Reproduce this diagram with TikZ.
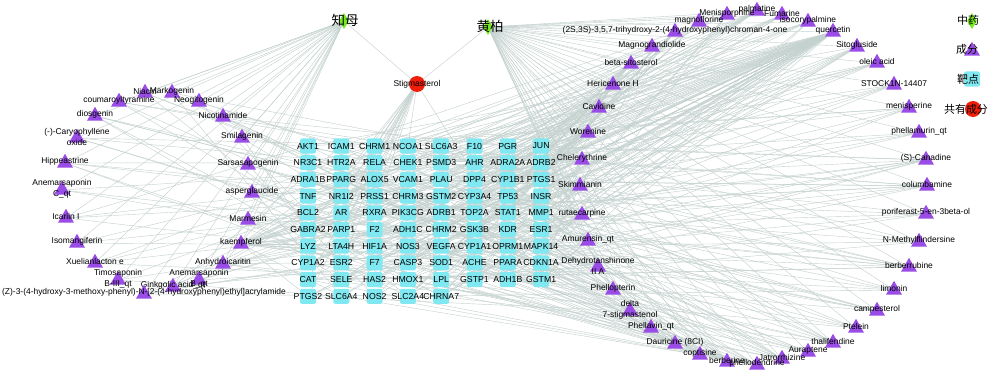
\documentclass[tikz,border=0pt]{standalone}
\usepackage{fontspec}
\setmainfont{Liberation Sans}
\newfontfamily\cjk{Noto Sans CJK SC}
\usetikzlibrary{shapes.geometric,backgrounds}

\definecolor{herbgreen}{RGB}{118,232,30}
\definecolor{ingpurple}{RGB}{153,76,230}
\definecolor{tcyan}{RGB}{128,232,240}
\definecolor{cred}{RGB}{240,30,10}
\definecolor{linkgray}{RGB}{196,210,207}

\tikzset{
    link/.style={draw=linkgray, line width=0.3pt},
    herb/.style={diamond, fill=herbgreen, minimum width=0.25cm, minimum height=0.4cm, inner sep=0pt},
    ingr/.style={regular polygon, regular polygon sides=3, fill=ingpurple, minimum size=0.46cm, inner sep=0pt},
    target/.style={rectangle, rounded corners=1.5pt, fill=tcyan, minimum width=0.4cm, minimum height=0.375cm, inner sep=0pt, font=\fontsize{6.2}{7}\selectfont},
    common/.style={circle, fill=cred, minimum size=0.4cm, inner sep=0pt},
    lbl/.style={font=\fontsize{6}{7.8}\selectfont, align=center, inner sep=0pt},
    herblbl/.style={font=\cjk\fontsize{9.6}{10}\selectfont, inner sep=0pt},
    legendlbl/.style={font=\cjk\fontsize{7.8}{8}\selectfont, inner sep=0pt}
}

% name/x/y/number of targets/label
\def\leftlist{%
    l1/145/93/3/Niacin,
    l2/172/93/4/Markogenin,
    l3/119/102/4/coumaroyltyramine,
    l4/199/102/3/Neogitogenin,
    l5/95/116/5/diosgenin,
    l6/223/117/3/Nicotinamide,
    l7/77/138/4/{(-)-Caryophyllene\\oxide},
    l8/242/138/3/Smilagenin,
    l9/65/163/5/Hippeastrine,
    l10/248/165/4/Sarsasapogenin,
    l11/62/190/3/{Anemarsaponin\\C\_qt},
    l12/252/193/5/asperglaucide,
    l13/66/218/4/Icariin I,
    l14/248/220/6/Marmesin,
    l15/77/243/3/Isomangiferin,
    l16/241/244/25/kaempferol,
    l17/95/263/4/Xuelianlacton e,
    l18/223/264/8/Anhydroicaritin,
    l19/118/280/3/{Timosaponin\\B-III\_qt},
    l20/199/280/3/{Anemarsaponin\\B\_qt},
    l21/173/287/4/Ginkgolic acid\_qt,
    l22/144/294/5/(Z)-3-(4-hydroxy-3-methoxy-phenyl)-N-[2-(4-hydroxyphenyl)ethyl]acrylamide%
}

\def\rightlist{%
    r1/757/11/10/palmatine,
    r2/727/15/6/Menisporphine,
    r3/699/22/5/magnoflorine,
    r4/782/15/6/Fumarine,
    r5/808/22/7/isocorypalmine,
    r6/675/32/8/{(2S,3S)-3,5,7-trihydroxy-2-(4-hydroxyphenyl)chroman-4-one},
    r7/833/32/55/quercetin,
    r8/652/47/4/Magnograndiolide,
    r9/857/47/8/Sitogluside,
    r10/631/64/14/beta-sitosterol,
    r11/877/63/6/oleic acid,
    r12/613/85/4/Hericenone H,
    r13/894/85/5/STOCK1N-14407,
    r14/599/108/7/Cavidine,
    r15/909/108/6/menisperine,
    r16/588/133/8/Worenine,
    r17/919/133/4/phellamurin\_qt,
    r18/582/160/12/Chelerythrine,
    r19/926/160/9/(S)-Canadine,
    r20/580/186/7/Skimmianin,
    r21/927/186/9/columbamine,
    r22/582/215/10/rutaecarpine,
    r23/926/214/5/poriferast-5-en-3beta-ol,
    r24/588/241/4/Amurensin\_qt,
    r25/919/242/5/N-Methylflindersine,
    r26/598/267/6/{Dehydrotanshinone\\II A},
    r27/909/267/9/berberrubine,
    r28/613/290/6/Phellopterin,
    r29/894/290/5/limonin,
    r30/630/311/5/{delta\\7-stigmastenol},
    r31/877/311/7/campesterol,
    r32/651/328/4/Phellavin\_qt,
    r33/856/328/5/Ptelein,
    r34/675/344/6/Dauricine (8CI),
    r35/833/343/8/thalifendine,
    r36/700/355/10/coptisine,
    r37/808/352/6/Auraptene,
    r38/727/362/14/berberine,
    r39/782/359/9/Jatrorrhizine,
    r40/757/365/8/phellodendrine%
}

\begin{document}
\begin{tikzpicture}[x=0.025cm, y=-0.025cm]
    \path[use as bounding box] (0,0) rectangle (1000,375);

    % Targets
    \foreach \row [count=\ro] in {
        {AKT1,ICAM1,CHRM1,NCOA1,SLC6A3,F10,PGR,JUN},
        {NR3C1,HTR2A,RELA,CHEK1,PSMD3,AHR,ADRA2A,ADRB2},
        {ADRA1B,PPARG,ALOX5,VCAM1,PLAU,DPP4,CYP1B1,PTGS1},
        {TNF,NR1I2,PRSS1,CHRM3,GSTM2,CYP3A4,TP53,INSR},
        {BCL2,AR,RXRA,PIK3CG,ADRB1,TOP2A,STAT1,MMP1},
        {GABRA2,PARP1,F2,ADH1C,CHRM2,GSK3B,KDR,ESR1},
        {LYZ,LTA4H,HIF1A,NOS3,VEGFA,CYP1A1,OPRM1,MAPK14},
        {CYP1A2,ESR2,F7,CASP3,SOD1,ACHE,PPARA,CDKN1A},
        {CAT,SELE,HAS2,HMOX1,LPL,GSTP1,ADH1B,GSTM1},
        {PTGS2,SLC6A4,NOS2,SLC2A4,CHRNA7}} {
        \foreach \g [count=\co] in \row {
            \node[target] (t\ro-\co) at ({308+33.3*(\co-1)}, {146+16.7*(\ro-1)}) {\makebox[0pt]{\g}};
        }
    }

    % Herbs and the shared ingredient
    \node[herb] (zm) at (344,21) {};
    \node[herblbl] (zm-lab) at (345,20) {知母};
    \node[herb] (hb) at (488,27) {};
    \node[herblbl] (hb-lab) at (490,26) {黄柏};
    \node[common] (stig) at (417,84) {};
    \node[lbl] (stig-lab) at (417,84) {Stigmasterol};

    % Ingredients
    \foreach \nm/\px/\py/\nd/\lab in \leftlist {
        \node[ingr] (\nm) at (\px,\py) {};
        \node[lbl] (\nm-lab) at (\px,\py-1.5) {\lab};
    }
    \foreach \nm/\px/\py/\nd/\lab in \rightlist {
        \node[ingr] (\nm) at (\px,\py) {};
        \node[lbl] (\nm-lab) at (\px,\py-1.5) {\lab};
    }

    % Legend
    \node[herb] (lg-herb) at (972,21) {};
    \node[legendlbl] (lg-herb-lab) at (968,20) {中药};
    \node[ingr] (lg-ingr) at (972,51) {};
    \node[legendlbl] (lg-ingr-lab) at (967,49) {成分};
    \node[target] (lg-target) at (972,79) {};
    \node[legendlbl] (lg-target-lab) at (968,79) {靶点};
    \node[common] (lg-common) at (973,109) {};
    \node[legendlbl] (lg-common-lab) at (966,109) {共有成分};

    % Links behind everything
    \begin{pgfonlayer}{background}
        \fill[white] (0,0) rectangle (1000,375);
        \draw[link] (zm) -- (stig);
        \draw[link] (hb) -- (stig);
        \foreach \k in {1,...,18} {
            \pgfmathtruncatemacro\tix{mod(11+\k*23,77)}
            \pgfmathtruncatemacro\ro{div(\tix,8)+1}
            \pgfmathtruncatemacro\co{mod(\tix,8)+1}
            \draw[link] (stig) -- (t\ro-\co);
        }
        \foreach \nm/\px/\py/\nd/\lab [count=\i] in \leftlist {
            \draw[link] (zm) -- (\nm);
            \foreach \k in {1,...,\nd} {
                \pgfmathtruncatemacro\tix{mod(\i*17+\k*29,77)}
                \pgfmathtruncatemacro\ro{div(\tix,8)+1}
                \pgfmathtruncatemacro\co{mod(\tix,8)+1}
                \draw[link] (\nm) -- (t\ro-\co);
            }
        }
        \foreach \nm/\px/\py/\nd/\lab [count=\i] in \rightlist {
            \draw[link] (hb) -- (\nm);
            \foreach \k in {1,...,\nd} {
                \pgfmathtruncatemacro\tix{mod(\i*13+\k*31+5,77)}
                \pgfmathtruncatemacro\ro{div(\tix,8)+1}
                \pgfmathtruncatemacro\co{mod(\tix,8)+1}
                \draw[link] (\nm) -- (t\ro-\co);
            }
        }
    \end{pgfonlayer}
\end{tikzpicture}
\end{document}
